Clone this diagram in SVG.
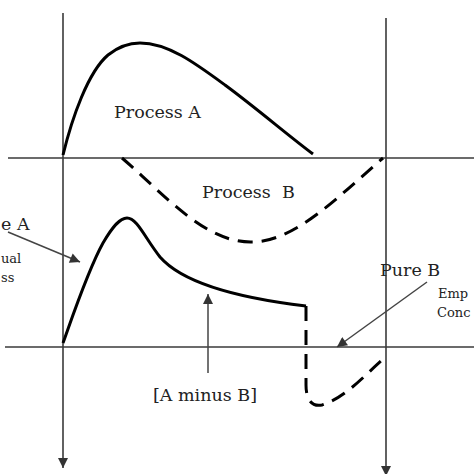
<svg xmlns="http://www.w3.org/2000/svg" width="474" height="474" viewBox="0 0 474 474">
<style>
.axis{stroke:#3a3a3a;stroke-width:1.6;fill:none}
.curve{stroke:#000;stroke-width:3;fill:none;stroke-linejoin:round;stroke-linecap:butt}
.dash{stroke-dasharray:15 9}
.ptr{stroke:#444;stroke-width:1.5;fill:none}
text{font-family:"DejaVu Serif","Liberation Serif",serif;fill:#222}
.lbl{font-size:17.5px}
.sm{font-size:13px}
</style>
<defs>
<marker id="ah" viewBox="0 0 10 10" refX="10" refY="5" markerWidth="11" markerHeight="10" markerUnits="userSpaceOnUse" orient="auto">
<path d="M0,0 L10,5 L0,10 Z" fill="#333"/>
</marker>
</defs>
<rect width="474" height="474" fill="#fff"/>
<g id="connectors">
<line class="axis" x1="63" y1="13" x2="63" y2="468" marker-end="url(#ah)"/>
<line class="axis" x1="386" y1="18" x2="386" y2="476" marker-end="url(#ah)"/>
<line class="axis" x1="8" y1="158" x2="474" y2="158"/>
<line class="axis" x1="5" y1="347" x2="474" y2="347"/>
<line class="ptr" x1="8" y1="232" x2="80" y2="262" marker-end="url(#ah)"/>
<line class="ptr" x1="427" y1="282" x2="337" y2="347" marker-end="url(#ah)"/>
<line class="ptr" x1="208" y1="373" x2="208" y2="294" marker-end="url(#ah)"/>
</g>
<g id="process-a">
<path class="curve" d="M63,155 C72,118 88,72 108,55 C118,47 127,43 140,43 C168,43 195,63 225,85 C255,107 290,137 313,154"/>
<text class="lbl" x="114" y="118">Process A</text>
</g>
<g id="process-b">
<path class="curve dash" d="M122,158 C165,195 205,243 252,242 C295,242 340,195 383,158"/>
<text class="lbl" x="202" y="198" xml:space="preserve">Process  B</text>
</g>
<g id="a-minus-b">
<path class="curve" d="M63,343 C72,318 88,270 103,243 C113,226 120,218 127,218 C137,218 145,238 160,257 C180,280 230,297 306,306"/>
<path class="curve dash" d="M306,306 L306,385 C306,400 312,407 322,405 C345,398 365,375 382,360"/>
<text class="lbl" x="153" y="401">[A minus B]</text>
</g>
<g id="pure-a">
<text class="lbl" x="1" y="230">e A</text>
<text class="sm" x="1" y="263">ual</text>
<text class="sm" x="1" y="282">ss</text>
</g>
<g id="pure-b">
<text class="lbl" x="380" y="276">Pure B</text>
<text class="sm" x="438" y="298">Emp</text>
<text class="sm" x="437" y="317">Conc</text>
</g>
</svg>
